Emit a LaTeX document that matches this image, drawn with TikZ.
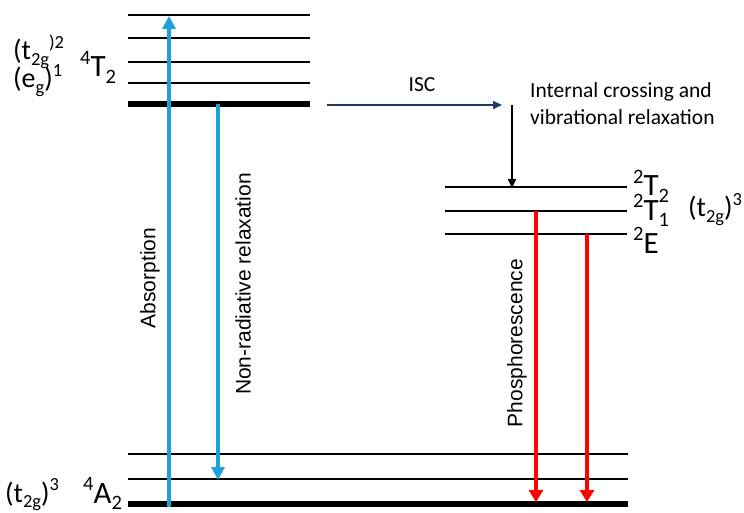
\documentclass[tikz,border=0pt]{standalone}
\usepackage{fontspec}
\setmainfont{Carlito}
\newfontfamily\arialfont{Liberation Sans}
\usetikzlibrary{arrows.meta}
\definecolor{absblue}{RGB}{29,161,219}
\definecolor{iscnavy}{RGB}{31,56,100}
\definecolor{phred}{RGB}{255,0,0}
\newcommand{\up}[1]{\raisebox{0.40em}{\fontsize{0.66em}{0.66em}\selectfont #1}}
\newcommand{\dn}[1]{\raisebox{-0.20em}{\fontsize{0.66em}{0.66em}\selectfont #1}}
\tikzset{
  thinlvl/.style={line width=2.4pt},
  thicklvl/.style={line width=5.5pt},
  bluearrow/.style={draw=absblue, line width=3.4pt, -{Triangle[width=13pt,length=13pt]}, shorten >=-1pt},
  redarrow/.style={draw=phred, line width=3.6pt, -{Triangle[width=14pt,length=12pt]}},
  thinarrow/.style={line width=1.6pt, -{Triangle[width=8pt,length=9pt]}},
  cfglab/.style={inner sep=0pt, anchor=base west, font=\fontsize{28}{30}\selectfont},
  statelab/.style={inner sep=0pt, anchor=base west, font=\fontsize{31}{33}\selectfont},
  txt/.style={inner sep=0pt, font=\fontsize{21.5}{27}\selectfont},
  rotlab/.style={inner sep=0pt, rotate=90, font=\arialfont\fontsize{21}{25}\selectfont}
}
\begin{document}
\begin{tikzpicture}[x=1pt,y=-1pt]
\useasboundingbox (0,0) rectangle (744,513);

% quartet 4T2 levels
\foreach \y/\n in {15/a,38/b,62/c,83/d}{
  \coordinate (Q\n-l) at (128,\y); \coordinate (Q\n-r) at (310,\y);
  \draw[thinlvl] (Q\n-l) -- (Q\n-r);
}
\coordinate (Q0-l) at (128,104); \coordinate (Q0-r) at (310,104);
\draw[thicklvl] (Q0-l) -- (Q0-r);

% doublet levels
\foreach \y/\n in {187/t2,211/t1,234/e}{
  \coordinate (D\n-l) at (445,\y); \coordinate (D\n-r) at (627,\y);
  \draw[thinlvl] (D\n-l) -- (D\n-r);
}

% ground state 4A2 levels
\foreach \y/\n in {454/b,479/a}{
  \coordinate (G\n-l) at (128,\y); \coordinate (G\n-r) at (628,\y);
  \draw[thinlvl] (G\n-l) -- (G\n-r);
}
\coordinate (G0-l) at (128,504); \coordinate (G0-r) at (628,504);
\draw[thicklvl] (G0-l) -- (G0-r);

% transition end points
\coordinate (absB) at (169,507);
\coordinate (absT) at (169,17);
\coordinate (nrT) at (218,104);
\coordinate (nrB) at (218,479);
\coordinate (iscA) at (327,105);
\coordinate (iscB) at (502,105);
\coordinate (icT) at (512,105);
\coordinate (icB) at (512,188);
\coordinate (ph1T) at (536,211);
\coordinate (ph1B) at (536,502);
\coordinate (ph2T) at (587,234);
\coordinate (ph2B) at (587,502);

% transitions
\draw[bluearrow] (absB) -- (absT);
\draw[bluearrow] (nrT) -- (nrB);
\draw[thinarrow, draw=iscnavy, fill=iscnavy] (iscA) -- (iscB);
\draw[thinarrow] (icT) -- (icB);
\draw[redarrow] (ph1T) -- (ph1B);
\draw[redarrow] (ph2T) -- (ph2B);

% term symbols and configurations
\node[cfglab] (cfgT) at (13,60) {(t\dn{2g}\up{)2}};
\node[cfglab] (cfgE) at (13,88) {(e\dn{g})\up{1}};
\node[statelab] (sT2) at (80,77) {\up{4}T\dn{2}};
\node[cfglab] (cfgG) at (5,502) {(t\dn{2g})\up{3}};
\node[statelab] (sA2) at (83,503) {\up{4}A\dn{2}};
\node[statelab] (dT2) at (633,196) {\up{2}T\dn{2}};
\node[statelab] (dT1) at (633,220) {\up{2}T\dn{1}};
\node[statelab] (dE) at (633,253) {\up{2}E};
\node[cfglab] (cfgD) at (688,217) {(t\dn{2g})\up{3}};

% process labels
\node[txt] (isc) at (422,85) {ISC};
\node[txt, anchor=base west, align=left] (ic) at (530,125) {Internal crossing and\\vibrational relaxation};
\node[rotlab] (absl) at (150,278) {Absorption};
\node[rotlab] (nrl) at (243,284) {Non-radiative relaxation};
\node[rotlab] (phl) at (517,343) {Phosphorescence};
\end{tikzpicture}
\end{document}
